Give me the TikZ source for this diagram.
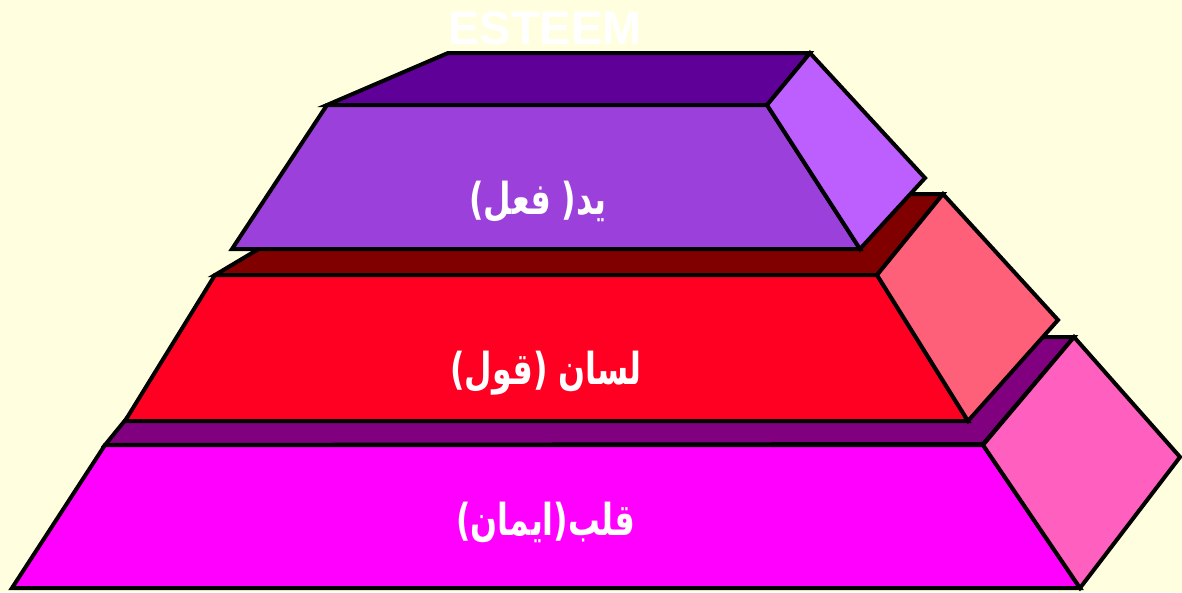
\documentclass[tikz,border=0pt]{standalone}
\usepackage{fontspec}
\usepackage{xcolor}
\usepackage{graphicx}
\usepackage{tikz}
\setmainfont{Liberation Sans}
\newfontfamily\arabicfont[Script=Arabic]{DejaVu Sans}
\TeXXeTstate=1
\definecolor{bgyellow}{HTML}{FFFFE0}
\definecolor{yadfront}{HTML}{9C40DC}
\definecolor{yadside}{HTML}{BD5FFF}
\definecolor{yadtop}{HTML}{5F0099}
\definecolor{lisanfront}{HTML}{FF0022}
\definecolor{lisanside}{HTML}{FF6079}
\definecolor{lisantop}{HTML}{800000}
\definecolor{qalbfront}{HTML}{FF00FF}
\definecolor{qalbside}{HTML}{FF5FBF}
\definecolor{qalbtop}{HTML}{800080}
\newcommand\arlabel[1]{\scalebox{0.72}[1]{\beginR #1\endR}}

\begin{document}
\begin{tikzpicture}[x=1pt, y=-1pt, line width=4pt,
  face/.style={draw=black, fill=#1},
  every node/.style={text=white, font=\arabicfont\bfseries\fontsize{44}{50}\selectfont}]
  \fill[bgyellow] (0,0) rectangle (1182,592);
  % title
  \node[font=\bfseries\fontsize{47}{50}\selectfont] (title) at (545,28) {ESTEEM};
  % bottom block
  \draw[face=qalbtop] (105,445) -- (193,337) -- (1074,337) -- (983,444) -- cycle;
  \draw[face=qalbfront] (105,445) -- (983,445) -- (1080,588) -- (12,588) -- cycle;
  \draw[face=qalbside] (983,445) -- (1074,337) -- (1180,457) -- (1080,588) -- cycle;
  % middle block
  \draw[face=lisantop] (215,275) -- (351,194) -- (943,194) -- (877,275) -- cycle;
  \draw[face=lisanfront] (215,275) -- (877,275) -- (968,421) -- (125,421) -- cycle;
  \draw[face=lisanside] (877,275) -- (943,194) -- (1058,320) -- (968,421) -- cycle;
  % top block
  \draw[face=yadtop] (327,105) -- (448,53) -- (810,53) -- (767,105) -- cycle;
  \draw[face=yadfront] (327,105) -- (767,105) -- (860,249) -- (232,249) -- cycle;
  \draw[face=yadside] (767,105) -- (810,53) -- (925,178) -- (860,249) -- cycle;
  % labels
  \node (yad) at (538,202) {\arlabel{يد( فعل)}};
  \node (lisan) at (546,373) {\arlabel{لسان (قول)}};
  \node (qalb) at (546,522) {\arlabel{قلب(ايمان)}};
\end{tikzpicture}
\end{document}
